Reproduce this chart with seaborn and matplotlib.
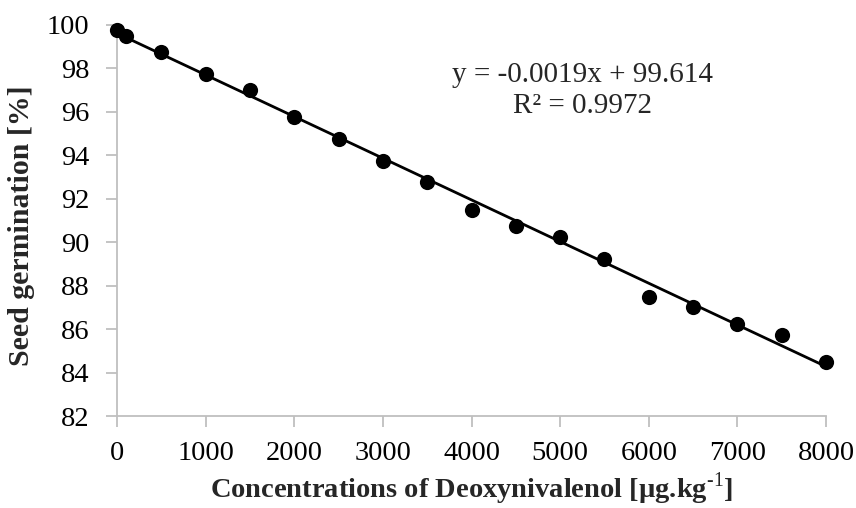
import numpy as np
import pandas as pd
import matplotlib
matplotlib.use("Agg")
import matplotlib.pyplot as plt
import seaborn as sns

# data
concentration = [0, 100, 500, 1000, 1500, 2000, 2500, 3000, 3500, 4000,
                 4500, 5000, 5500, 6000, 6500, 7000, 7500, 8000]
germination = [99.75, 99.5, 98.75, 97.75, 97.0, 95.75, 94.75, 93.75, 92.75, 91.5,
               90.75, 90.25, 89.25, 87.5, 87.0, 86.25, 85.75, 84.5]
x_ticks = [0, 1000, 2000, 3000, 4000, 5000, 6000, 7000, 8000]
y_ticks = [82, 84, 86, 88, 90, 92, 94, 96, 98, 100]
equation = "y = -0.0019x + 99.614"
r2_text = "R² = 0.9972"

df = pd.DataFrame({"conc": concentration, "germ": germination})

sns.set_theme(style="white")
plt.rcParams["font.family"] = ["Liberation Serif", "DejaVu Serif"]
plt.rcParams["mathtext.fontset"] = "custom"
plt.rcParams["mathtext.rm"] = "Liberation Serif"
plt.rcParams["mathtext.bf"] = "Liberation Serif:bold"

fig = plt.figure(figsize=(8.56, 5.08), dpi=100)
ax = fig.add_axes([0.1367, 0.181, 0.8283, 0.770])

sns.regplot(data=df, x="conc", y="germ", ax=ax, ci=None,
            scatter_kws={"s": 120, "color": "black", "alpha": 1, "zorder": 3, "linewidths": 0},
            line_kws={"color": "black", "linewidth": 2.0, "zorder": 2})

ax.set_xlim(0, 8000)
ax.set_ylim(82, 100)
ax.set_xticks(x_ticks)
ax.set_yticks(y_ticks)
ax.tick_params(axis="both", labelsize=20.5, colors="#bfbfbf", labelcolor="black",
               length=8, width=1.3, direction="out", bottom=True, left=True)
ax.tick_params(axis="x", pad=10)
ax.tick_params(axis="y", pad=12)

for side in ["top", "right"]:
    ax.spines[side].set_visible(False)
for side in ["left", "bottom"]:
    ax.spines[side].set_color("#bfbfbf")
    ax.spines[side].set_linewidth(1.3)
for coll in ax.collections:
    coll.set_clip_on(False)

ax.set_xlabel("Concentrations of Deoxynivalenol [µg.kg$^{\\mathbf{\\text{-1}}}$]",
              fontsize=20.5, fontweight="bold")
ax.xaxis.set_label_coords(0.5, -0.140)
ax.set_ylabel("Seed germination [%]", fontsize=21.5, fontweight="bold")
ax.yaxis.set_label_coords(-0.1157, 0.487)

ax.text(5247, 97.7, equation, fontsize=21, ha="center", va="center")
ax.text(5247, 96.25, r2_text, fontsize=21, ha="center", va="center")

fig.savefig("out.png", dpi=100)
